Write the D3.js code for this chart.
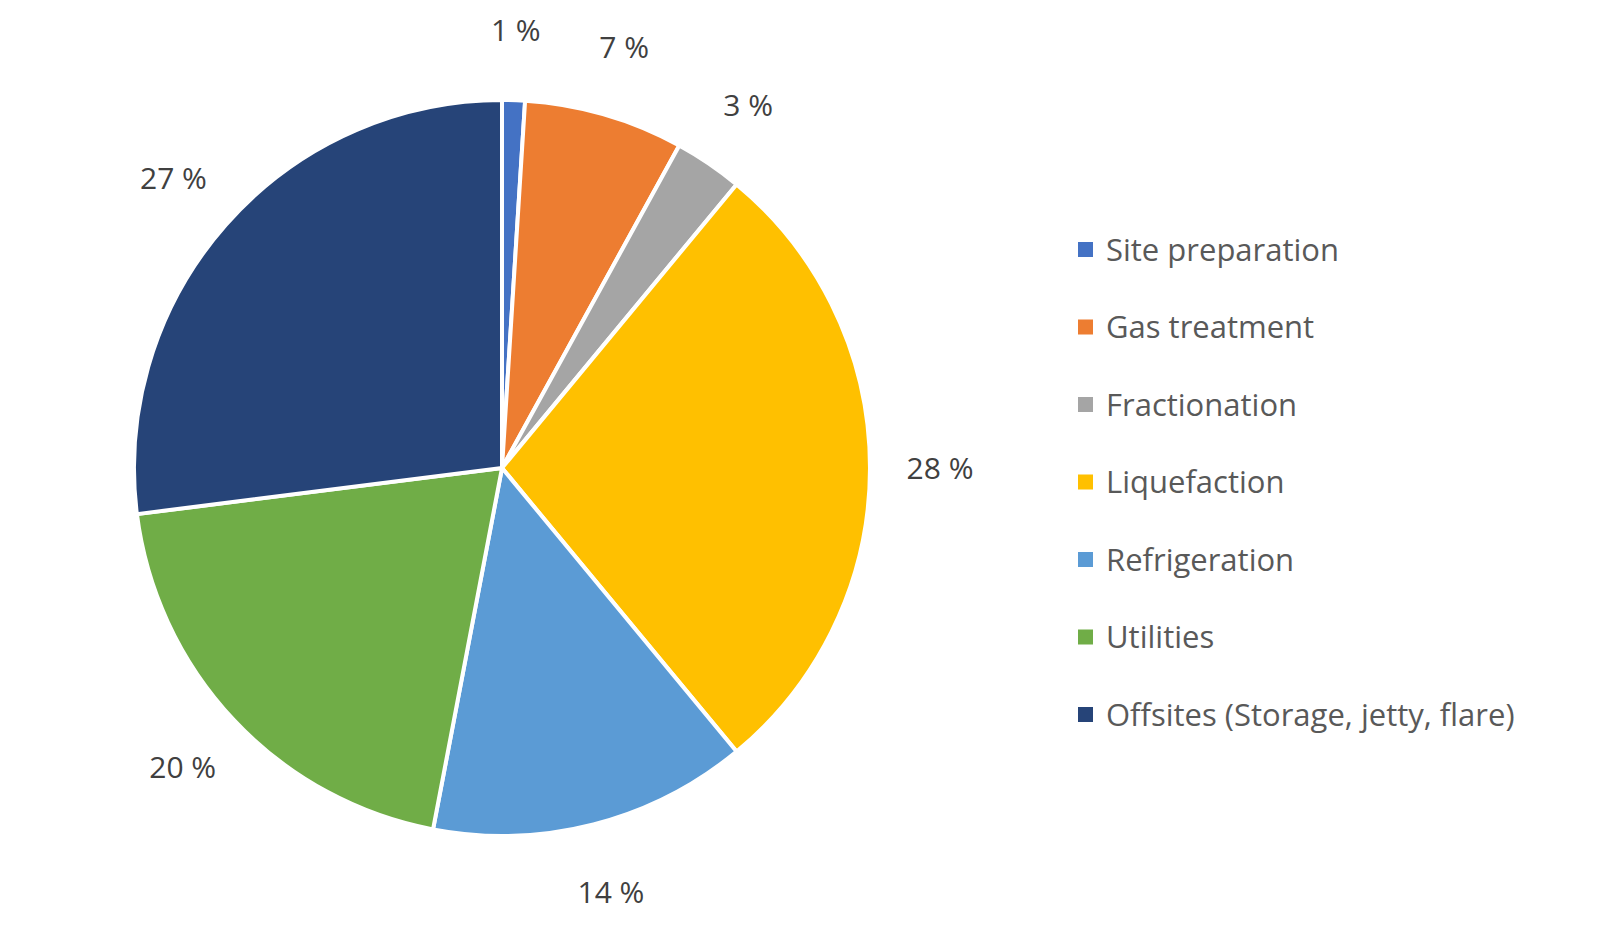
<!DOCTYPE html>
<html><head><meta charset="utf-8">
<script src="https://cdn.jsdelivr.net/npm/d3@7"></script>
<style>body{margin:0;background:#fff}</style>
</head><body>
<div id="chart"></div>
<script>
const categories = ["Site preparation", "Gas treatment", "Fractionation", "Liquefaction", "Refrigeration", "Utilities", "Offsites (Storage, jetty, flare)"];
const values = [1, 7, 3, 28, 14, 20, 27];
const colors = ["#4472C4", "#ED7D31", "#A5A5A5", "#FFC000", "#5B9BD5", "#70AD47", "#264478"];

const width = 1614, height = 944;
const cx = 502, cy = 468, radius = 368;

const svg = d3.select("#chart").append("svg")
    .attr("width", width).attr("height", height)
    .style("font-family", "'Open Sans', sans-serif");

const pie = d3.pie().sort(null).value(d => d)(values);
const arc = d3.arc().innerRadius(0).outerRadius(radius);
const labelArc = d3.arc().innerRadius(438).outerRadius(438);

const g = svg.append("g").attr("transform", `translate(${cx},${cy})`);

g.selectAll("path").data(pie).join("path")
    .attr("d", arc)
    .attr("fill", (d, i) => colors[i])
    .attr("stroke", "#fff")
    .attr("stroke-width", 4);

g.selectAll("text").data(pie).join("text")
    .attr("transform", d => `translate(${labelArc.centroid(d)})`)
    .attr("text-anchor", "middle")
    .attr("dy", "0.35em")
    .attr("font-size", 30)
    .attr("fill", "#404040")
    .text(d => d.data + " %");

// legend
const legend = svg.append("g").attr("transform", "translate(1078,250)");
const row = legend.selectAll("g").data(categories).join("g")
    .attr("transform", (d, i) => `translate(0,${i * 77.5})`);
row.append("rect").attr("x", 0).attr("y", -8).attr("width", 15).attr("height", 15)
    .attr("fill", (d, i) => colors[i]);
row.append("text").attr("x", 28).attr("dy", "0.35em")
    .attr("font-size", 31).attr("fill", "#595959")
    .text(d => d);
</script>
</body></html>
